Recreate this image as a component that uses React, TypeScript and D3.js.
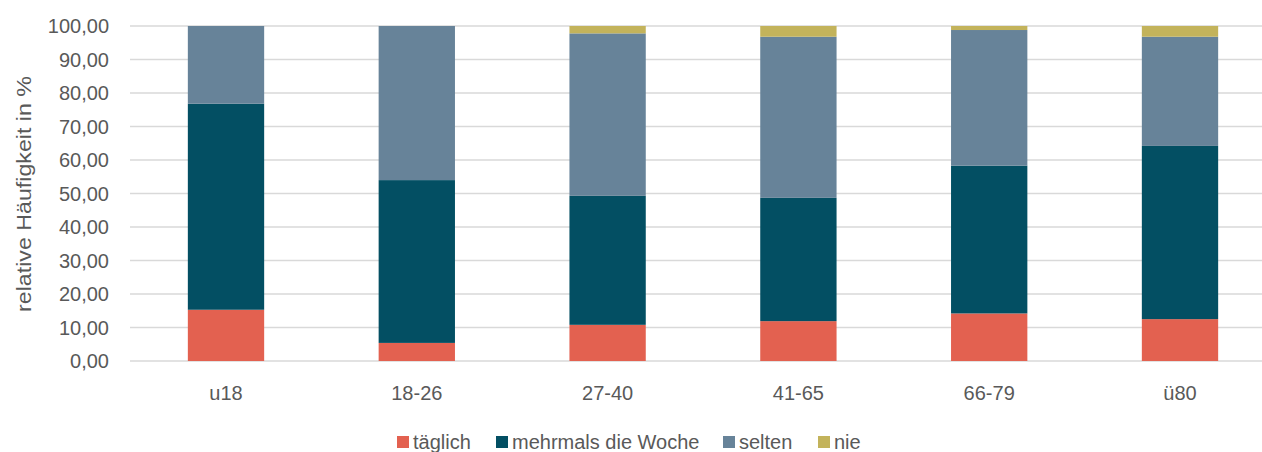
import React from "react";
import * as d3 from "d3";

const categories = ["u18", "18-26", "27-40", "41-65", "66-79", "ü80"];
const seriesNames = ["täglich", "mehrmals die Woche", "selten", "nie"];
const taeglich = [15.3, 5.4, 10.8, 11.9, 14.2, 12.5];
const mehrmals = [61.5, 48.6, 38.5, 36.8, 44.1, 51.7];
const selten = [23.2, 46.0, 48.5, 48.1, 40.5, 32.6];
const nie = [0, 0, 2.2, 3.2, 1.2, 3.2];
const yTicks = [0, 10, 20, 30, 40, 50, 60, 70, 80, 90, 100];
const colors = ["#E36150", "#034F63", "#678399", "#C3B35B"];

const W = 1262;
const H = 452;
const FONT = "'Liberation Sans', Arial, sans-serif";
const TEXT = "#595959";

export default function App() {
  const x = d3
    .scaleBand<string>()
    .domain(categories)
    .range([130.6, 1275.4])
    .paddingInner(0.6)
    .paddingOuter(0.3);
  const y = d3.scaleLinear().domain([0, 100]).range([361, 26]);

  const rows = categories.map((c, i) => ({
    cat: c,
    "täglich": taeglich[i],
    "mehrmals die Woche": mehrmals[i],
    selten: selten[i],
    nie: nie[i],
  }));
  const stacked = d3.stack<any>().keys(seriesNames)(rows);

  const fmt = (v: number) => v.toFixed(2).replace(".", ",");

  const legendItems = [
    { name: "täglich", x: 397 },
    { name: "mehrmals die Woche", x: 496 },
    { name: "selten", x: 723 },
    { name: "nie", x: 818 },
  ];

  return (
    <svg
      width={W}
      height={H}
      style={{ position: "absolute", left: 0, top: 0, display: "block", background: "#fff" }}
    >
      <rect width={W} height={H} fill="#fff" />
      {yTicks.map((t) => (
        <g key={t}>
          <line x1={130} x2={W} y1={y(t)} y2={y(t)} stroke="#D9D9D9" strokeWidth={1.5} />
          <text
            x={109}
            y={y(t)}
            dy="0.36em"
            textAnchor="end"
            fontFamily={FONT}
            fontSize={20}
            fill={TEXT}
          >
            {fmt(t)}
          </text>
        </g>
      ))}
      {stacked.map((s, si) => (
        <g key={s.key} fill={colors[si]}>
          {s.map((d, i) =>
            d[1] - d[0] > 0 ? (
              <rect
                key={i}
                x={x(categories[i])}
                width={x.bandwidth()}
                y={y(d[1])}
                height={y(d[0]) - y(d[1])}
              />
            ) : null
          )}
        </g>
      ))}
      {categories.map((c) => (
        <text
          key={c}
          x={(x(c) as number) + x.bandwidth() / 2}
          y={400}
          textAnchor="middle"
          fontFamily={FONT}
          fontSize={20}
          fill={TEXT}
        >
          {c}
        </text>
      ))}
      <text
        transform={`translate(31,${194}) rotate(-90)`}
        textAnchor="middle"
        fontFamily={FONT}
        fontSize={20}
        textLength={236}
        lengthAdjust="spacingAndGlyphs"
        fill={TEXT}
      >
        relative Häufigkeit in %
      </text>
      {legendItems.map((l, i) => (
        <g key={l.name}>
          <rect x={l.x} y={436} width={12} height={12} fill={colors[i]} />
          <text x={l.x + 16} y={449} fontFamily={FONT} fontSize={20} fill={TEXT}>
            {l.name}
          </text>
        </g>
      ))}
    </svg>
  );
}
